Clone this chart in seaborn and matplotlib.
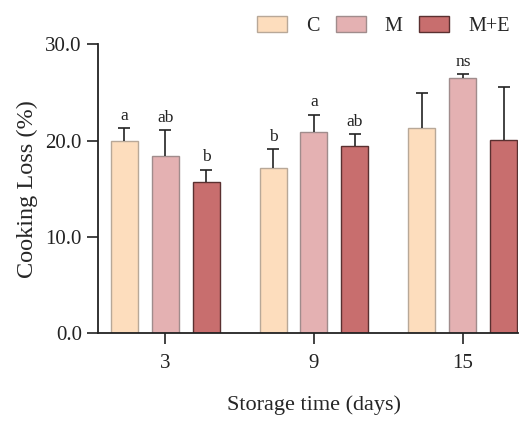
# Cooking loss bar chart (C, M, M+E over storage days)
import numpy as np
import pandas as pd
import matplotlib
matplotlib.use("Agg")
import matplotlib.pyplot as plt
import seaborn as sns

# Data
days = ["3", "9", "15"]
treatments = ["C", "M", "M+E"]
loss_c = [20.0, 17.2, 21.3]
loss_m = [18.4, 20.9, 26.5]
loss_me = [15.7, 19.4, 20.1]
sd_c = [1.3, 1.9, 3.6]
sd_m = [2.7, 1.8, 0.4]
sd_me = [1.3, 1.3, 5.5]
letters_c = ["a", "b", ""]
letters_m = ["ab", "a", "ns"]
letters_me = ["b", "ab", ""]

face_colors = ["#FDDDBD", "#E4B1B2", "#C86E6E"]
edge_colors = ["#B8A898", "#A08C8C", "#5A3030"]

df = pd.DataFrame({
    "day": days * 3,
    "treatment": [t for t in treatments for _ in days],
    "loss": loss_c + loss_m + loss_me,
})
errors = [sd_c, sd_m, sd_me]
letters = [letters_c, letters_m, letters_me]

sns.set_style("ticks")
plt.rcParams["font.family"] = ["Liberation Serif", "DejaVu Serif"]

fig = plt.figure(figsize=(5.23, 4.21), dpi=100)
ax = fig.add_axes([0.187, 0.208, 0.803, 0.687])

sns.barplot(data=df, x="day", y="loss", hue="treatment", order=days,
            hue_order=treatments, palette=face_colors, errorbar=None,
            width=0.825, gap=0.34, linewidth=1.0, saturation=1, ax=ax)

# upper-only error bars and significance letters
bar_groups = list(ax.containers)
for i, cont in enumerate(bar_groups):
    for j, bar in enumerate(cont):
        bar.set_edgecolor(edge_colors[i])
        x = bar.get_x() + bar.get_width() / 2
        h = bar.get_height()
        eb = ax.errorbar(x, h, yerr=[[0], [errors[i][j]]], fmt="none",
                         ecolor="#222222", elinewidth=1.2, capsize=4,
                         capthick=1.2, zorder=1)
        eb[1][0].set_visible(False)
        if letters[i][j]:
            ax.annotate(letters[i][j], (x, h + errors[i][j]),
                        xytext=(0, 3), textcoords="offset points",
                        ha="center", va="bottom", fontsize=12.5,
                        color="#222222")

ax.set_ylim(0, 30)
ax.set_yticks([0, 10, 20, 30])
ax.set_yticklabels(["0.0", "10.0", "20.0", "30.0"])
ax.set_xlim(-0.452, 2.369)
ax.set_xlabel("Storage time (days)", fontsize=16, labelpad=20)
ax.set_ylabel("Cooking Loss (%)", fontsize=17.5, labelpad=5)
ax.xaxis.set_label_coords(0.515, -0.215)
ax.tick_params(axis="both", labelsize=15, length=8, width=1.2,
               color="#222222", labelcolor="#222222")
ax.tick_params(axis="x", pad=7)
for s in ["left", "bottom"]:
    ax.spines[s].set_linewidth(1.3)
    ax.spines[s].set_color("#222222")
sns.despine(ax=ax)

leg = ax.legend(ncol=3, loc="lower right", bbox_to_anchor=(1.0, 1.0),
                frameon=False, fontsize=14.5, handlelength=1.5,
                handleheight=0.85, handletextpad=0.95, columnspacing=0.8,
                borderaxespad=0)
for handle, ec in zip(leg.legend_handles, edge_colors):
    handle.set_edgecolor(ec)
    handle.set_linewidth(1.0)

fig.savefig("out.png", dpi=100)
